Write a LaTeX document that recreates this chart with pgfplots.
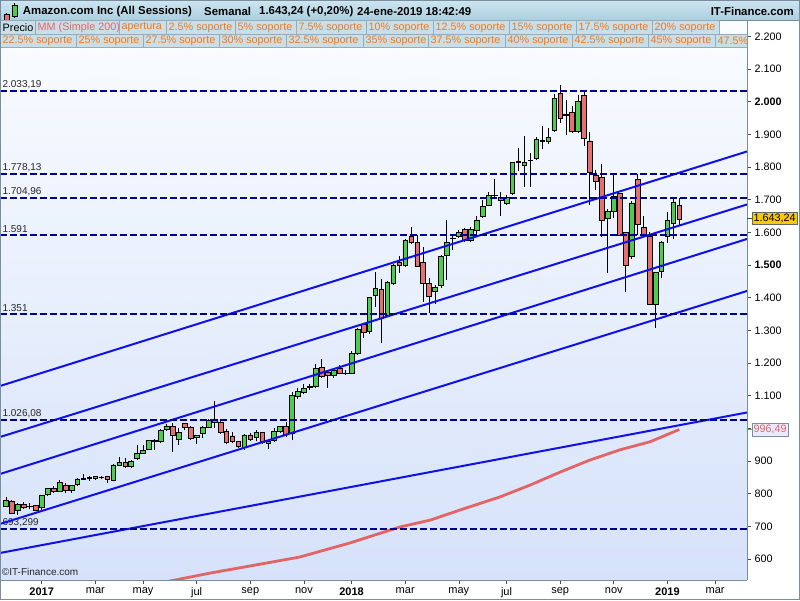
\documentclass[border=0pt]{standalone}
\usepackage{fontspec}
\setmainfont{Liberation Sans}
\usepackage{pgfplots}
\usepackage{pgfplotstable}
\pgfplotsset{compat=1.18}
\definecolor{bgtop}{RGB}{250,252,255}
\definecolor{bgbot}{RGB}{214,226,250}
\definecolor{navy}{RGB}{0,0,140}
\definecolor{trend}{RGB}{16,16,235}
\definecolor{mared}{RGB}{226,100,100}
\definecolor{cgreen}{RGB}{76,206,76}
\definecolor{cred}{RGB}{228,112,112}
\definecolor{orangetxt}{RGB}{242,122,28}
\definecolor{mmtxt}{RGB}{236,100,100}
\definecolor{legfill}{RGB}{200,222,232}
\definecolor{legline}{RGB}{150,172,186}
\definecolor{hdrtop}{RGB}{206,230,240}
\definecolor{hdrbot}{RGB}{170,206,222}
\definecolor{framec}{RGB}{120,142,158}
\definecolor{ybox}{RGB}{252,200,0}

\pgfplotstableread{
i O H L C
-6 762 790 758 780
-5 778 782 738 741
-4 750 770 736 767
-3 767 774 752 758
-2 760 771 754 761
-1 764 766 748 750
0 758 797 750 796
1 799 818 792 816
2 816 823 803 807
3 808 843 805 834
4 826 834 803 810
5 811 828 803 826
6 829 848 825 845
7 847 860 842 845
8 846 854 840 849
9 846 855 842 852
10 851 854 844 849
11 852 855 833 843
12 840 890 838 888
13 887 911 885 895
14 895 910 880 885
15 885 902 880 898
16 908 949 903 925
17 925 950 922 933
18 936 963 933 962
19 962 966 935 960
20 959 999 955 993
21 997 1014 993 1007
22 1007 1017 927 978
23 967 1000 950 988
24 1016 1017 994 1004
25 1004 1006 965 968
26 973 980 951 979
27 985 1006 970 1002
28 1004 1028 1000 1025
29 1028 1083 1001 1020
30 1020 1030 983 988
31 990 997 951 956
32 977 990 955 959
33 959 962 940 946
34 941 982 935 980
35 980 986 960 966
36 974 996 960 987
37 988 990 952 956
38 955 965 937 961
39 964 1000 958 990
40 990 1008 987 1005
41 1005 1018 975 982
42 985 1110 963 1102
43 1097 1122 1090 1112
44 1109 1135 1105 1123
45 1125 1137 1117 1128
46 1128 1198 1125 1184
47 1187 1213 1153 1160
48 1171 1180 1124 1162
49 1161 1185 1155 1177
50 1185 1194 1165 1168
51 1168 1180 1163 1169
52 1170 1236 1168 1230
53 1230 1307 1225 1303
54 1318 1322 1277 1293
55 1296 1402 1290 1401
56 1406 1478 1370 1429
57 1425 1458 1262 1337
58 1347 1450 1340 1447
59 1444 1503 1440 1500
60 1507 1528 1477 1498
61 1500 1580 1494 1575
62 1589 1617 1565 1568
63 1570 1591 1495 1497
64 1508 1556 1386 1444
65 1444 1460 1352 1403
66 1419 1440 1380 1432
67 1439 1530 1430 1526
68 1531 1638 1454 1568
69 1583 1590 1546 1581
70 1589 1606 1583 1600
71 1609 1612 1570 1577
72 1575 1617 1569 1609
73 1607 1650 1595 1638
74 1648 1699 1645 1679
75 1682 1724 1680 1712
76 1712 1762 1708 1714
77 1708 1723 1650 1697
78 1690 1713 1683 1708
79 1718 1813 1715 1813
80 1819 1859 1789 1813
81 1806 1895 1740 1814
82 1820 1843 1739 1821
83 1827 1891 1820 1885
84 1880 1926 1855 1882
85 1879 1918 1871 1891
86 1913 2025 1908 2011
87 2026 2050 1935 1949
88 1958 2004 1898 1962
89 1967 1988 1905 1908
90 1908 2019 1903 2000
91 2019 2033 1865 1889
92 1880 1908 1685 1785
93 1776 1791 1730 1757
94 1770 1810 1587 1638
95 1643 1670 1476 1663
96 1663 1782 1645 1711
97 1719 1720 1592 1592
98 1599 1600 1418 1498
99 1528 1696 1517 1690
100 1763 1778 1591 1626
101 1616 1650 1590 1590
102 1587 1600 1378 1381
103 1381 1480 1307 1479
104 1480 1575 1460 1571
105 1589 1663 1567 1638
106 1628 1705 1580 1693
107 1683 1705 1619 1641
}\candles

\pgfplotsset{chartbase/.style={at={(0pt,20pt)}, anchor=south west,
  width=747pt, height=559pt, scale only axis,
  xmin=-7, xmax=118.36, ymin=535.7, ymax=2247}}

\begin{document}
\begin{tikzpicture}
\useasboundingbox (0pt,0pt) rectangle (800pt,600pt);
\fill[white] (0pt,0pt) rectangle (800pt,600pt);

% ---------- axis 1: background, ticks, MA, wicks, level labels
\begin{axis}[chartbase,
  axis background/.style={top color=bgtop, bottom color=bgbot},
  axis line style={draw=none},
  xtick={0,9,17,26,35,44,52,61,70,78,87,96,105,113},
  xticklabels={\textbf{2017},mar,may,jul,sep,nov,\textbf{2018},mar,may,jul,sep,nov,\textbf{2019},mar},
  ytick={600,700,...,2200},
  yticklabels={600,700,800,900,{},1.100,1.200,1.300,1.400,\textbf{1.500},1.600,1.700,1.800,1.900,\textbf{2.000},2.100,2.200},
  xtick pos=left, ytick pos=right, yticklabel pos=right,
  tick align=outside, major tick length=4pt,
  tick style={draw=black!70, line width=0.6pt},
  xticklabel style={font=\fontsize{11}{12}\selectfont},
  yticklabel style={font=\fontsize{10.8}{12}\selectfont},
]
\addplot[mared, line width=2.8pt, line join=round] coordinates {
(20.7,529.6) (22.4,535.7) (28.3,557) (34.96,578.6) (43.3,606) (51.7,649)
(60.1,698) (65.2,719) (70.2,750) (76.9,790) (82.0,826.6) (87.0,866)
(92.0,903) (97.0,934) (102.1,959) (107,996.49)};
\addplot[draw=none, no markers, error bars/.cd, y dir=plus, y explicit,
  error mark=none, error bar style={draw=black, solid, line width=0.9pt}]
  table[x=i, y=L, y error expr=\thisrow{H}-\thisrow{L}] {\candles};
\begin{scope}[font=\fontsize{10}{11}\selectfont, text=black!85]
\node[anchor=south west, inner sep=0pt, yshift=2pt] at (axis cs:-6.6,2033.19) {2.033,19};
\node[anchor=south west, inner sep=0pt, yshift=2pt] at (axis cs:-6.6,1778.13) {1.778,13};
\node[anchor=south west, inner sep=0pt, yshift=2pt] at (axis cs:-6.6,1704.96) {1.704,96};
\node[anchor=south west, inner sep=0pt, yshift=2pt] at (axis cs:-6.6,1591) {1.591};
\node[anchor=south west, inner sep=0pt, yshift=2pt] at (axis cs:-6.6,1351) {1.351};
\node[anchor=south west, inner sep=0pt, yshift=2pt] at (axis cs:-6.6,1026.08) {1.026,08};
\node[anchor=south west, inner sep=0pt, yshift=2pt] at (axis cs:-6.6,693.299) {693,299};
\node[anchor=west, inner sep=0pt] at (axis cs:-6.7,559) {\copyright IT-Finance.com};
\end{scope}
\end{axis}

% ---------- axis 2: candle bodies
\begin{axis}[chartbase, hide axis, ybar stacked, bar width=0.78]
\addplot[draw=none, fill=none] table[x=i, y expr={min(\thisrow{O},\thisrow{C})}] {\candles};
\addplot[draw=black, line width=0.6pt, fill=cgreen] table[x=i, y expr={max(\thisrow{C}-\thisrow{O},0)}] {\candles};
\addplot[draw=black, line width=0.6pt, fill=cred] table[x=i, y expr={max(\thisrow{O}-\thisrow{C},0)}] {\candles};
\end{axis}

% ---------- axis 3: trend lines and levels
\begin{axis}[chartbase, hide axis]
\addplot[trend, line width=2pt] coordinates {(-7,1129.6) (118.36,1847.6)};
\addplot[trend, line width=2pt] coordinates {(-7,973.5) (118.36,1685.3)};
\addplot[trend, line width=2pt] coordinates {(-7,860.2) (118.36,1579.7)};
\addplot[trend, line width=2pt] coordinates {(-7,707.2) (118.36,1420.5)};
\addplot[trend, line width=2pt] coordinates {(-7,618.4) (118.36,1048.5)};
\addplot[navy, line width=2pt, dash pattern=on 6.5pt off 3.5pt] coordinates {(-7,2033.19) (118.36,2033.19)};
\addplot[navy, line width=2pt, dash pattern=on 6.5pt off 3.5pt] coordinates {(-7,1778.13) (118.36,1778.13)};
\addplot[navy, line width=2pt, dash pattern=on 6.5pt off 3.5pt] coordinates {(-7,1704.96) (118.36,1704.96)};
\addplot[navy, line width=2pt, dash pattern=on 6.5pt off 3.5pt] coordinates {(-7,1591) (118.36,1591)};
\addplot[navy, line width=2pt, dash pattern=on 6.5pt off 3.5pt] coordinates {(-7,1351) (118.36,1351)};
\addplot[navy, line width=2pt, dash pattern=on 6.5pt off 3.5pt] coordinates {(-7,1026.08) (118.36,1026.08)};
\addplot[navy, line width=2pt, dash pattern=on 6.5pt off 3.5pt] coordinates {(-7,693.299) (118.36,693.299)};
\coordinate (lastp) at (axis cs:118.36,1643.24);
\coordinate (lastma) at (axis cs:118.36,996.49);
\end{axis}

% ---------- decorations
\begin{scope}[x=1pt, y=1pt]
% frame lines
\draw[framec, line width=0.8pt] (747,20) -- (747,579.5);
\draw[framec, line width=0.8pt] (0,20) -- (747,20);
% price boxes
\draw[black!70, line width=0.6pt] (lastp) -- ++(5,0);
\node[anchor=west, fill=ybox, draw=black!60, inner xsep=1.5pt, inner ysep=2pt,
  font=\fontsize{10.8}{12}\selectfont] at ([xshift=5pt]lastp) {1.643,24};
\draw[mared, line width=0.8pt] (lastma) -- ++(5,0);
\node[anchor=west, fill=white!92!blue, draw=framec, inner xsep=1.5pt, inner ysep=2pt,
  text=mared, font=\fontsize{10.8}{12}\selectfont] at ([xshift=5pt]lastma) {996,49};
% header
\shade[top color=hdrtop, bottom color=hdrbot] (0,579.5) rectangle (800,600);
\draw[framec, line width=0.8pt] (0,579.5) -- (800,579.5);
% icon
\draw[black, line width=0.6pt] (6.5,577) -- (6.5,587);
\draw[black, fill=cred, line width=0.5pt] (4,580) rectangle (9,586);
\draw[black, line width=0.6pt] (14.5,582) -- (14.5,597);
\draw[black, fill=cgreen, line width=0.5pt] (12,584) rectangle (17,595);
\begin{scope}[font=\bfseries\fontsize{11.4}{13}\selectfont]
\node[anchor=west, inner sep=0pt] at (22.7,588.5) {Amazon.com Inc (All Sessions)};
\node[anchor=west, inner sep=0pt] at (204,588.5) {Semanal};
\node[anchor=west, inner sep=0pt] at (259,588.5) {1.643,24 (+0,20\%)};
\node[anchor=west, inner sep=0pt] at (357,588.5) {24-ene-2019 18:42:49};
\node[anchor=east, inner sep=0pt] at (794,588.5) {IT-Finance.com};
\end{scope}
% legend rows
\begin{scope}[font=\fontsize{10.8}{12}\selectfont]
\clip (0,552) rectangle (747,579.5);
\foreach \a/\b/\t/\c in {0/35/Precio/black, 35/119/MM (Simple 200)/mmtxt, 119/166/apertura/orangetxt,
  166/235/2.5\% soporte/orangetxt, 235/296/5\% soporte/orangetxt, 296/366/7.5\% soporte/orangetxt,
  366/433/10\% soporte/orangetxt, 433/509/12.5\% soporte/orangetxt, 509/576/15\% soporte/orangetxt,
  576/652/17.5\% soporte/orangetxt, 652/719/20\% soporte/orangetxt}{
  \draw[fill=legfill, draw=legline, line width=0.6pt] (\a,566) rectangle (\b,579.5);
  \node[anchor=west, inner sep=0pt, text=\c] at (\a+2.5,572.6) {\t};
}
\foreach \a/\b/\t in {0/76/22.5\% soporte, 76/143/25\% soporte, 143/219/27.5\% soporte,
  219/286/30\% soporte, 286/363/32.5\% soporte, 363/428/35\% soporte, 428/505/37.5\% soporte,
  505/572/40\% soporte, 572/648/42.5\% soporte, 648/715/45\% soporte, 715/790/47.5\%}{
  \draw[fill=legfill, draw=legline, line width=0.6pt] (\a,552.5) rectangle (\b,566);
  \node[anchor=west, inner sep=0pt, text=orangetxt] at (\a+2.5,559.1) {\t};
}
\end{scope}
% outer frame
\draw[framec, line width=1pt] (0.5,0.5) rectangle (799.5,599.5);
\end{scope}
\end{tikzpicture}
\end{document}
